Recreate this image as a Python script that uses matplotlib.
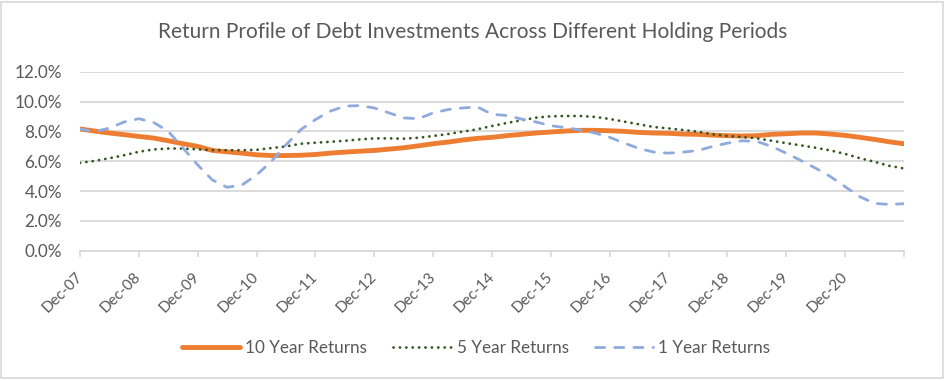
import matplotlib
matplotlib.use("Agg")
import matplotlib.pyplot as plt
from matplotlib.patches import Rectangle
from matplotlib.ticker import FuncFormatter, FixedLocator

# Quarterly observations from Dec-07 to Dec-21 (values in %)
year_labels = ["Dec-07", "Dec-08", "Dec-09", "Dec-10", "Dec-11", "Dec-12", "Dec-13",
               "Dec-14", "Dec-15", "Dec-16", "Dec-17", "Dec-18", "Dec-19", "Dec-20", ""]

ten_year = [8.16, 8.02, 7.89, 7.78, 7.66, 7.55, 7.37, 7.17, 6.99, 6.72, 6.63, 6.54, 6.43, 6.38, 6.38,
            6.40, 6.45, 6.54, 6.61, 6.67, 6.72, 6.81, 6.90, 7.03, 7.17, 7.28, 7.42, 7.53,
            7.60, 7.71, 7.80, 7.89, 7.96, 8.02, 8.07, 8.07, 8.04, 8.00, 7.93, 7.89, 7.87, 7.82,
            7.80, 7.75, 7.71, 7.69, 7.71, 7.80, 7.84, 7.89, 7.89, 7.82, 7.73, 7.60, 7.46, 7.30, 7.17]

five_year = [5.89, 6.02, 6.20, 6.40, 6.63, 6.79, 6.85, 6.85, 6.79, 6.74, 6.74, 6.74, 6.76, 6.88, 6.99,
             7.17, 7.24, 7.30, 7.37, 7.46, 7.53, 7.53, 7.51, 7.57, 7.69, 7.82, 7.98, 8.14,
             8.36, 8.56, 8.74, 8.92, 9.01, 9.03, 9.03, 8.97, 8.83, 8.65, 8.47, 8.29, 8.20, 8.09,
             7.98, 7.80, 7.69, 7.62, 7.53, 7.37, 7.21, 7.06, 6.90, 6.72, 6.49, 6.20, 5.96, 5.69, 5.51]

one_year = [8.16, 7.98, 8.22, 8.63, 8.85, 8.60, 8.00, 6.88, 5.75, 4.74, 4.25, 4.40, 5.08, 5.98, 7.10,
            8.11, 8.79, 9.35, 9.69, 9.73, 9.57, 9.24, 8.90, 8.85, 9.24, 9.46, 9.57, 9.64,
            9.15, 9.06, 8.83, 8.63, 8.38, 8.25, 8.09, 7.89, 7.60, 7.21, 6.85, 6.61, 6.54, 6.61,
            6.72, 6.99, 7.21, 7.37, 7.33, 6.99, 6.54, 6.04, 5.53, 4.97, 4.29, 3.62, 3.17, 3.10, 3.15]

y_ticks = [0, 2, 4, 6, 8, 10, 12]

FONT = "Lato"
TXT = "#595959"
GRID = "#D9D9D9"

fig = plt.figure(figsize=(9.45, 3.81), dpi=100)
W, H = 945, 381
ax = fig.add_axes([80 / W, 1 - 250.7 / H, (904 - 80) / W, (250.7 - 71.7) / H])

x = list(range(len(ten_year)))
ax.plot(x, ten_year, color="#ED7D31", lw=3.5, solid_capstyle="round", label="10 Year Returns", zorder=3)
ax.plot(x, five_year, color="#375623", lw=2.0, linestyle=(0, (0.05, 2.25)), dash_capstyle="round",
        label="5 Year Returns", zorder=4)
ax.plot(x, one_year, color="#8FAADC", lw=2.0, linestyle=(0, (3.3, 3.6)), dash_capstyle="round",
        label="1 Year Returns", zorder=5)

ax.set_xlim(0, len(ten_year) - 1)
ax.set_ylim(0, 12)
ax.xaxis.set_major_locator(FixedLocator([4 * i for i in range(len(year_labels))]))
ax.set_xticklabels(year_labels, rotation=45, ha="right", va="center", rotation_mode="anchor",
                   fontsize=11, color=TXT, family=FONT)
ax.set_yticks(y_ticks)
ax.yaxis.set_major_formatter(FuncFormatter(lambda v, p: f"{v:.1f}%"))
for lab in ax.get_yticklabels():
    lab.set_family(FONT)
    lab.set_fontsize(12.3)
    lab.set_color(TXT)

ax.grid(axis="y", color=GRID, lw=1.3)
ax.set_axisbelow(True)
for s in ["left", "right", "top"]:
    ax.spines[s].set_visible(False)
ax.spines["bottom"].set_color(GRID)
ax.spines["bottom"].set_linewidth(1.3)
ax.tick_params(axis="x", length=4, width=1.2, color=GRID, pad=13)
ax.tick_params(axis="y", length=0, pad=13)

fig.text(473 / W, 1 - 32 / H, "Return Profile of Debt Investments Across Different Holding Periods",
         ha="center", va="center", fontsize=15.0, color=TXT, family=FONT)

leg = fig.legend(loc="center", bbox_to_anchor=(476 / W, 1 - 348 / H), ncol=3, frameon=False,
                 handlelength=3.4, handletextpad=0.3, columnspacing=1.55,
                 prop={"family": FONT, "size": 12.3})
for t in leg.get_texts():
    t.set_color(TXT)

fig.patches.append(Rectangle((1 / W, 3 / H), 942 / W, 376 / H, transform=fig.transFigure,
                             fill=False, edgecolor=GRID, lw=1.2))

fig.savefig("out.png", dpi=100)
